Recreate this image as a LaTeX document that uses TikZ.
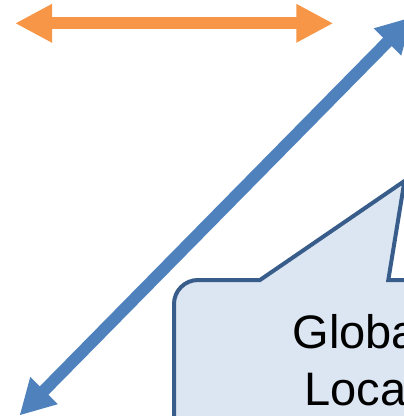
\documentclass[tikz,border=0pt]{standalone}
\usepackage{fontspec}
\setmainfont{Liberation Sans}
\usetikzlibrary{arrows.meta}
\definecolor{arrow-orange}{HTML}{F79646}
\definecolor{arrow-blue}{HTML}{4F81BD}
\definecolor{callout-fill}{HTML}{DCE6F2}
\definecolor{callout-line}{HTML}{385D8A}
\tikzset {
  % thick arrow with a big head at both ends
  wide arrow/.style = {
    line width = 12pt,
    {Triangle[length = #1, width = 36pt]}-{Triangle[length = #1, width = 36pt]}
  },
  % speech bubble outline
  bubble/.style = {
    draw = callout-line,
    fill = callout-fill,
    line width = 4pt
  },
  % text inside the bubble
  bubble text/.style = {
    inner sep = 0,
    anchor = base,
    font = \fontsize{47pt}{56pt}\selectfont
  }
}

\begin{document}
\begin{tikzpicture}[x=1pt, y=-1pt]
    \useasboundingbox (0,0) rectangle (404,416);

    \coordinate (flat-left)  at (15,23.3);
    \coordinate (flat-right) at (333.3,23.3);
    \coordinate (diag-low)   at (19.5,415.5);
    \coordinate (diag-high)  at (412,17);
    \coordinate (tip)        at (404.5,181);

    \draw[wide arrow = 37pt, draw = arrow-orange, fill = arrow-orange] (flat-left) -- (flat-right);
    \draw[wide arrow = 35pt, draw = arrow-blue, fill = arrow-blue] (diag-low) -- (diag-high);

    \path[bubble] (174,450) [rounded corners = 24pt] -- (174,280) [sharp corners]
        -- (260,280) -- (tip) -- (388.3,280) -- (440,280) -- (440,450) -- cycle;

    \node[bubble text] (line-one) at (355.3,348.5) {Globa};
    \node[bubble text] (line-two) at (355.3,405)   {Loca};
  \end{tikzpicture}
\end{document}
